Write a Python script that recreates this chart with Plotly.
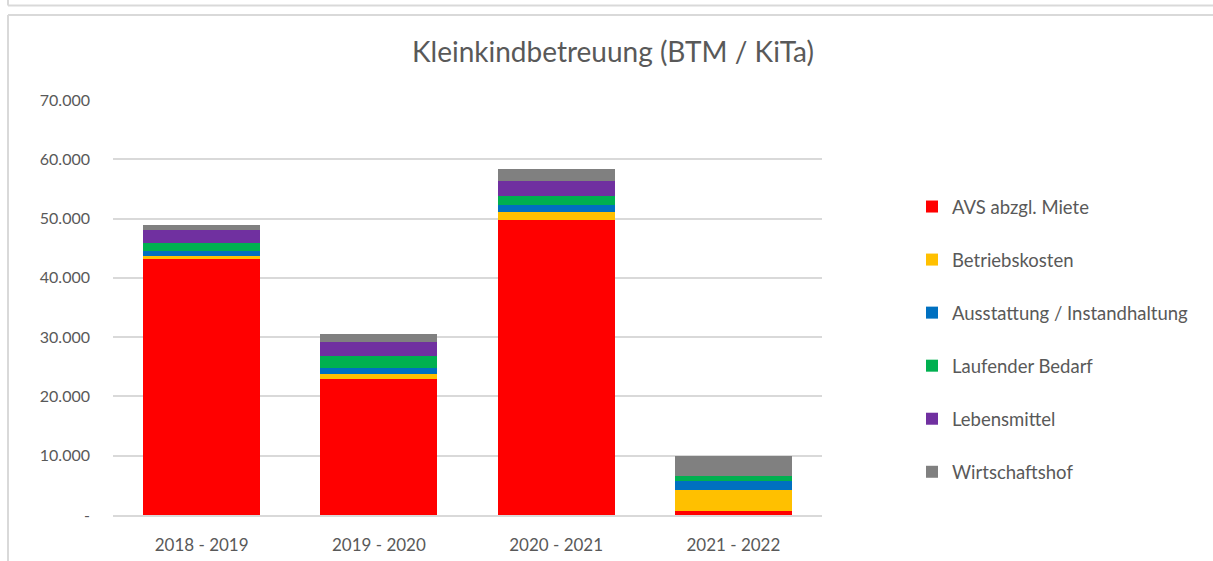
import plotly.graph_objects as go

categories = ["2018 - 2019", "2019 - 2020", "2020 - 2021", "2021 - 2022"]
series_names = ["AVS abzgl. Miete", "Betriebskosten", "Ausstattung / Instandhaltung",
                "Laufender Bedarf", "Lebensmittel", "Wirtschaftshof"]
avs = [43200, 22900, 49700, 750]
betriebskosten = [570, 900, 1450, 3400]
ausstattung = [730, 1060, 1080, 1600]
laufender_bedarf = [1400, 2020, 1620, 850]
lebensmittel = [2140, 2260, 2420, 0]
wirtschaftshof = [900, 1450, 2130, 3400]
colors = ["#FF0000", "#FFC000", "#0070C0", "#00B050", "#7030A0", "#808080"]
tick_vals = [0, 10000, 20000, 30000, 40000, 50000, 60000, 70000]
tick_text = ["-", "10.000", "20.000", "30.000", "40.000", "50.000", "60.000", "70.000"]

values = [avs, betriebskosten, ausstattung, laufender_bedarf, lebensmittel, wirtschaftshof]

FONT = "Lato, 'Open Sans', sans-serif"
TXT = "#595959"
W, H = 1213, 561
L, R, T, B = 113, 822, 100, 515

fig = go.Figure()
for i, (name, vals, col) in enumerate(zip(series_names, values, colors)):
    fig.add_trace(go.Bar(x=categories, y=vals, name=name, marker_color=col,
                         marker_line_width=0, legendgroup=f"g{i}"))


def px_x(px):
    return (px - L) / (R - L)


def px_y(py):
    return (B - py) / (B - T)


fig.update_layout(
    width=W, height=H,
    barmode="stack", bargap=0.34,
    paper_bgcolor="white", plot_bgcolor="white",
    margin=dict(l=L, r=W - R, t=T, b=H - B, autoexpand=False),
    title=dict(text="Kleinkindbetreuung (BTM / KiTa)", x=613 / W, xanchor="center",
               y=1 - 52 / H, yanchor="middle", font=dict(family=FONT, size=28, color=TXT)),
    font=dict(family=FONT, size=16, color=TXT),
    legend=dict(x=px_x(912), xanchor="left", y=px_y(188), yanchor="top",
                traceorder="grouped", tracegroupgap=26, bgcolor="rgba(0,0,0,0)",
                font=dict(family=FONT, size=18.5, color=TXT)),
    xaxis=dict(showline=True, linecolor="#d9d9d9", linewidth=1.5, ticks="",
               ticklabelstandoff=14,
               tickfont=dict(size=17, color=TXT), showgrid=False),
    yaxis=dict(range=[0, 70000], tickvals=tick_vals, ticktext=tick_text,
               showgrid=True, gridcolor="#d9d9d9", gridwidth=1.5, zeroline=False,
               ticks="", ticklabelstandoff=22, tickfont=dict(size=16, color=TXT)),
)

line = dict(color="#d9d9d9", width=2)
fig.add_shape(type="line", xref="paper", yref="paper", x0=px_x(8), x1=px_x(W),
              y0=px_y(5.5), y1=px_y(5.5), line=line)
fig.add_shape(type="line", xref="paper", yref="paper", x0=px_x(8), x1=px_x(8),
              y0=px_y(0), y1=px_y(5.5), line=line)
fig.add_shape(type="line", xref="paper", yref="paper", x0=px_x(8), x1=px_x(W),
              y0=px_y(15), y1=px_y(15), line=line)
fig.add_shape(type="line", xref="paper", yref="paper", x0=px_x(8), x1=px_x(8),
              y0=px_y(15), y1=px_y(H), line=line)

fig.write_html("out.html", config={"displayModeBar": False},
               post_script="document.body.style.margin='0';")
